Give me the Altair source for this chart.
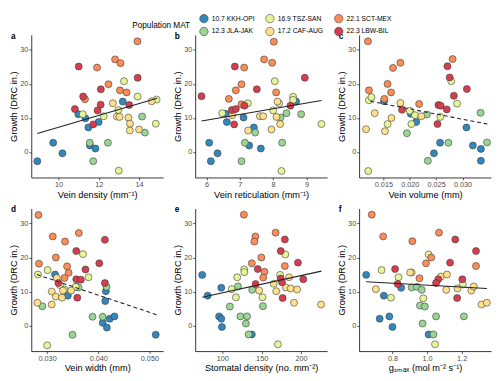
import altair as alt
import pandas as pd

GROUPS = ["10.7 KKH-OPI", "12.3 JLA-JAK", "16.9 TSZ-SAN", "17.2 CAF-AUG", "22.1 SCT-MEX", "22.3 LBW-BIL"]
COLORS = ["#3288BD", "#99D594", "#E6F598", "#FEE08B", "#FC8D59", "#D53E4F"]

Y_DOMAIN = [-7.5, 34.4]
Y_TICKS = [0, 10, 20, 30]

# group index: 0 blue, 1 green, 2 light green-yellow, 3 yellow, 4 orange, 5 red
A_X = [8.94, 9.73, 10.19, 10.98, 11.33, 11.48, 11.56, 11.83, 11.99, 13.19,
       11.55, 11.72, 12.45, 14.15, 14.29,
       11.2, 12.24, 12.97, 13.25, 13.93, 12.99, 14.87, 14.83,
       12.7, 12.9, 13.03, 13.47, 13.55, 13.54, 14.0, 14.63,
       11.91, 12.81, 13.08, 13.92, 12.48, 13.05, 13.38, 11.31,
       11.0, 13.93, 12.1, 11.22, 10.81, 12.09, 11.94, 11.72, 13.51]
A_Y = [-2.7, 2.7, -0.4, 11.1, 9.9, 7.2, 1.9, 1.0, 8.8, 14.8,
       2.7, -2.7, 2.7, 10.4, 5.7,
       11.1, 10.5, 12.3, 20.8, 16.3, -5.5, 15.4, 8.3,
       14.3, 10.4, 10.3, 10.1, 8.3, 6.3, 6.6, 14.9,
       24.8, 27.2, 26.1, 32.5, 19.9, 18.1, 17.5, 15.5,
       25.1, 21.8, 18.4, 16.3, 12.6, 13.9, 12.2, 8.1, 13.8]
A_G = [0] * 10 + [1] * 5 + [2] * 8 + [3] * 8 + [4] * 8 + [5] * 9
A_LINE_X = [8.94, 14.9]
A_LINE_Y = [5.4, 15.8]

B_X = [6.08, 6.13, 6.33, 6.57, 6.61, 7.11, 7.42, 7.28, 7.63, 8.69,
       7.15, 7.05, 7.46, 8.27, 8.4, 8.22, 8.84,
       6.47, 7.24, 8.05, 8.18, 8.6, 8.6, 8.25, 8.0, 9.45,
       6.77, 7.25, 7.6, 7.7, 7.95, 8.13, 8.1, 8.21,
       7.13, 7.73, 7.97, 8.02, 7.05, 6.88, 8.09, 6.67, 7.05,
       6.85, 8.95, 7.51, 5.85, 6.76, 6.88, 7.14, 6.83, 8.52]
B_Y = [2.7, -2.7, -0.4, 11.2, 8.8, 10.1, 7.2, 1.9, 1.0, 14.8,
       2.7, -2.7, 5.7, 2.7, 11.4, 10.1, 11.1,
       11.4, 14.3, 20.8, 14.3, 16.2, 15.3, -5.6, 12.2, 8.2,
       10.8, 6.3, 10.5, 10.5, 6.6, 14.8, 10.3, 8.2,
       24.8, 27.2, 26.2, 32.4, 19.9, 18.1, 17.5, 15.6, 14.0,
       25.1, 21.8, 18.4, 16.4, 12.3, 12.6, 13.6, 8.1, 13.6]
B_G = [0] * 10 + [1] * 7 + [2] * 9 + [3] * 8 + [4] * 9 + [5] * 9
B_LINE_X = [5.85, 9.45]
B_LINE_Y = [9.1, 15.1]

C_X = [0.01512, 0.02019, 0.02122, 0.02458, 0.02574, 0.03074, 0.03196, 0.03348, 0.03348,
       0.02342, 0.01945, 0.02324, 0.02732, 0.03342, 0.03464,
       0.01213, 0.01226, 0.01274, 0.02787, 0.0200, 0.02031, 0.02098, 0.01579, 0.0258, 0.02897,
       0.01171, 0.01335, 0.0153, 0.01652, 0.01823, 0.0222,
       0.01207, 0.01226, 0.01579, 0.01646, 0.01683, 0.01823, 0.01518, 0.02177, 0.02812,
       0.01854, 0.02543, 0.02586, 0.02525, 0.02702, 0.02714, 0.02757, 0.02836, 0.03082]
C_Y = [14.9, 11.2, 8.8, -0.4, 2.7, 7.2, 1.9, 0.9, -2.6,
       -2.6, 5.5, 11.0, 2.7, 11.5, 2.8,
       -5.6, 15.2, 16.1, 20.8, 12.1, 8.2, 10.8, 8.2, 10.3, 14.2,
       6.7, 11.4, 6.1, 10.0, 14.4, 10.5,
       32.5, 18.1, 20.0, 17.5, 24.7, 26.2, 15.6, 14.1, 27.3,
       12.4, 13.8, 13.6, 8.2, 12.5, 25.2, 21.9, 16.5, 18.5]
C_G = [0] * 9 + [1] * 6 + [2] * 10 + [3] * 6 + [4] * 9 + [5] * 9
C_LINE_X = [0.01256, 0.0347]
C_LINE_Y = [14.9, 8.2]

D_X = [0.03155, 0.03404, 0.03578, 0.04149, 0.04137, 0.04087, 0.04224, 0.04317, 0.04168, 0.05124,
       0.02907, 0.03497, 0.03888, 0.04087, 0.04162, 0.03615,
       0.030, 0.0282, 0.0301, 0.0370, 0.0325, 0.0381, 0.0356, 0.0334,
       0.0281, 0.0309, 0.0309, 0.0317, 0.0329, 0.0347, 0.0319, 0.0331,
       0.0283, 0.0311, 0.0335, 0.0362, 0.0284, 0.0317, 0.0339, 0.0342, 0.0334,
       0.0413, 0.0357, 0.0402, 0.0375, 0.0357, 0.0366, 0.0359, 0.0413, 0.0322]
D_Y = [15.0, 8.8, 11.4, 10.1, 7.2, 0.8, 2.0, 2.7, -0.6, -2.7,
       5.7, -2.7, 2.6, 2.6, 11.4, 11.2,
       -5.8, 15.0, 16.3, 21.0, 11.9, 14.2, 11.4, 10.6,
       6.7, 6.2, 10.0, 8.5, 8.2, 10.3, 14.0, 10.3,
       32.5, 26.2, 24.7, 27.2, 18.2, 20.0, 17.4, 15.5, 14.0,
       25.2, 21.9, 18.3, 16.5, 13.6, 13.5, 8.2, 12.5, 12.5]
D_G = [0] * 10 + [1] * 6 + [2] * 8 + [3] * 8 + [4] * 9 + [5] * 9
D_LINE_X = [0.0280, 0.0514]
D_LINE_Y = [15.0, 3.2]

E_X = [74.6, 81.5, 98.8, 96.0, 98.8, 99.6, 137.5,
       120, 109.7, 123, 131.5, 130, 133.5, 138, 151.6,
       119, 127.8, 128, 117.3, 112, 170.6, 180, 173.4, 151,
       146.8, 165.3, 168.5, 180.6, 184.7, 187, 191, 195, 225.4,
       127.4, 142, 140.7, 167.7, 149.6, 137.5, 179.4, 153.6, 152,
       179.4, 174.2, 196, 145, 142.3, 174, 175.8, 176.6, 202.8]
E_Y = [14.9, 8.8, 11.1, 2.7, 2.0, -0.4, -2.6,
       11.5, 5.6, 2.7, 2.7, 0.6, -2.6, 10.5, 5.7,
       14.2, 16.5, 15.7, 8.3, 10.7, -5.5, 20.9, 14.9, 8.3,
       10.3, 12.3, 10.1, 11.2, 14.2, 10.9, 6.7, 10.6, 6.2,
       32.6, 26.2, 24.7, 27.3, 20.0, 18.3, 17.5, 15.8, 14.1,
       25.3, 21.9, 18.5, 16.6, 12.2, 13.8, 12.7, 8.1, 13.6]
E_G = [0] * 7 + [1] * 8 + [2] * 9 + [3] * 9 + [4] * 9 + [5] * 9
E_LINE_X = [74.6, 225.8]
E_LINE_Y = [8.3, 16.0]

F_X = [0.648, 0.75, 0.85, 0.782, 0.726, 0.80, 1.009,
       0.911, 0.941, 0.959, 0.987, 0.974, 1.052, 1.037, 1.213, 0.969,
       0.737, 0.791, 0.835, 0.911, 0.978, 1.009, 1.046, 1.207,
       0.704, 0.902, 1.080, 1.111, 1.115, 1.176, 1.256, 1.270, 1.315, 1.346,
       0.680, 0.746, 0.915, 1.069, 1.024, 0.994, 1.283, 0.956,
       1.163, 1.283, 1.133, 0.815, 0.830, 1.065, 1.052, 1.174, 1.204]
F_Y = [14.9, 8.8, 11.1, 2.7, 2.0, -0.4, -2.6,
       11.2, 11.4, 5.9, 5.6, 0.6, 2.7, -2.6, 2.7, 10.5,
       16.3, 8.2, 14.2, 15.6, 8.0, 20.9, -5.5, 12.1,
       10.7, 15.6, 14.4, 10.5, 15.0, 10.9, 10.3, 11.5, 6.2, 6.7,
       32.6, 26.2, 24.8, 27.3, 20.0, 18.3, 17.5, 13.9,
       25.3, 21.9, 18.5, 16.6, 12.2, 13.6, 12.5, 8.1, 13.6]
F_G = [0] * 7 + [1] * 9 + [2] * 8 + [3] * 10 + [4] * 8 + [5] * 9
F_LINE_X = [0.648, 1.346]
F_LINE_Y = [12.9, 10.9]

FONT = "Liberation Sans"
W, H = 136, 147


def panel(tag, xs, ys, gs, lx, ly, dashed, domain, ticks, title, fmt):
    df = pd.DataFrame({"x": xs, "y": ys, "g": [GROUPS[i] for i in gs]})
    xsc = alt.Scale(domain=domain, nice=False, zero=False)
    ysc = alt.Scale(domain=Y_DOMAIN, nice=False, zero=False)
    xaxis = alt.Axis(title=title, values=ticks, format=fmt)
    yaxis = alt.Axis(title="Growth (DRC in.)", values=Y_TICKS)
    pts = alt.Chart(df).mark_circle(size=52, opacity=1, stroke="#3a3a3a", strokeWidth=0.6).encode(
        x=alt.X("x:Q", scale=xsc, axis=xaxis),
        y=alt.Y("y:Q", scale=ysc, axis=yaxis),
        color=alt.Color("g:N", scale=alt.Scale(domain=GROUPS, range=COLORS),
                        legend=alt.Legend(title="Population MAT", orient="none", legendX=104,
                                          legendY=-22, columns=3, titleOrient="left",
                                          titleAnchor="middle", titleBaseline="middle")),
    )
    line_kw = dict(color="#222222", strokeWidth=1.1)
    if dashed:
        line_kw["strokeDash"] = [4, 3]
    ln = alt.Chart(pd.DataFrame({"x": lx, "y": ly})).mark_line(**line_kw).encode(
        x=alt.X("x:Q", scale=xsc), y=alt.Y("y:Q", scale=ysc))
    tg = alt.Chart(pd.DataFrame({"t": [tag]})).mark_text(
        font=FONT, fontSize=8.5, fontWeight="bold", align="left", baseline="alphabetic", color="black"
    ).encode(text="t:N", x=alt.value(-21), y=alt.value(4))
    return alt.layer(pts, ln, tg).properties(width=W, height=H)


pa = panel("a", A_X, A_Y, A_G, A_LINE_X, A_LINE_Y, False, [8.64, 15.2], [10, 12, 14], "Vein density  (mm\u207b\u00b9)", "d")
pb = panel("b", B_X, B_Y, B_G, B_LINE_X, B_LINE_Y, False, [5.66, 9.62], [6, 7, 8, 9], "Vein reticulation  (mm\u207b\u00b9)", "d")
pc = panel("c", C_X, C_Y, C_G, C_LINE_X, C_LINE_Y, True, [0.0104, 0.0354], [0.015, 0.02, 0.025, 0.03], "Vein volume (mm)", ".3f")
pd_ = panel("d", D_X, D_Y, D_G, D_LINE_X, D_LINE_Y, True, [0.0269, 0.0527], [0.03, 0.035, 0.04, 0.045, 0.05], "Vein width (mm)", ".3f")
pe = panel("e", E_X, E_Y, E_G, E_LINE_X, E_LINE_Y, False, [65.7, 233], [100, 150, 200], "Stomatal density (no. mm\u207b\u00b2)", "d")
pf = panel("f", F_X, F_Y, F_G, F_LINE_X, F_LINE_Y, False, [0.607, 1.370], [0.8, 1.0, 1.2], "g\u209b\u2098\u2090\u2093 (mol m\u207b\u00b2 s\u207b\u00b9)", ".1f")

chart = alt.vconcat(
    alt.hconcat(pa, pb, pc, spacing=9),
    alt.hconcat(pd_, pe, pf, spacing=9),
    spacing=7,
).properties(
    padding={"left": 0, "top": 0, "right": 0, "bottom": 0}
).configure_view(stroke=None).configure_axis(
    grid=False, domainColor="black", domainWidth=0.8, tickColor="#333333", tickSize=2.5,
    tickWidth=0.8, labelColor="#4D4D4D", labelFontSize=7.5, labelFont=FONT, titleFont=FONT,
    titleFontSize=9.5, titleFontWeight="normal", titleColor="black", labelPadding=1,
    titlePadding=1.5, labelFlush=False
).configure_legend(
    titleFont=FONT, titleFontSize=8.5, titleFontWeight="normal", titleColor="black",
    labelFont=FONT, labelFontSize=7, labelColor="black", symbolSize=75, symbolType="circle",
    symbolStrokeColor="#3a3a3a", symbolStrokeWidth=0.6, symbolOpacity=1, columnPadding=9,
    rowPadding=1.5, titlePadding=9, labelOffset=3, padding=0
)

chart.save("out.html", embed_options={"renderer": "svg", "actions": False})
